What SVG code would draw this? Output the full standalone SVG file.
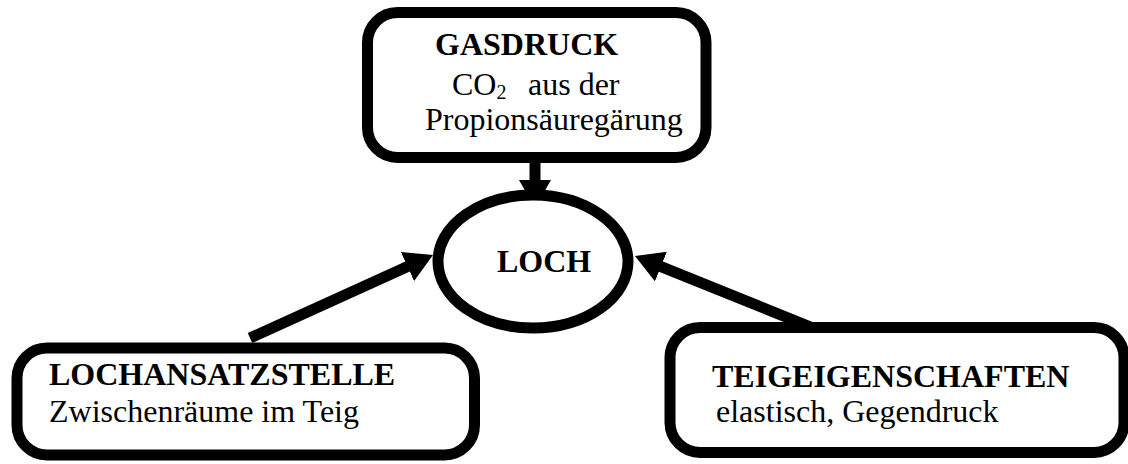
<svg xmlns="http://www.w3.org/2000/svg" width="1128" height="464" viewBox="0 0 1128 464">
<style>
.box{fill:#fff;stroke:#000;stroke-width:11}
.conn{stroke:#000;stroke-width:11;fill:none}
text{font-family:"Liberation Serif","Times New Roman",serif;font-size:32px;fill:#000}
.b{font-weight:bold}
</style>
<defs>
<marker id="ah" viewBox="0 0 28 32" refX="2" refY="16" markerWidth="28" markerHeight="32" markerUnits="userSpaceOnUse" orient="auto">
<path d="M0,0 L28,16 L0,32 z" fill="#000"/>
</marker>
</defs>
<rect width="1128" height="464" fill="#fff"/>
<g id="connectors">
<line class="conn" x1="535" y1="157" x2="535" y2="182" marker-end="url(#ah)"/>
<line class="conn" x1="250" y1="338" x2="409.3" y2="265.7" marker-end="url(#ah)"/>
<line class="conn" x1="818" y1="330" x2="659.1" y2="265.8" marker-end="url(#ah)"/>
</g>
<g id="gasdruck">
<rect class="box" x="367.5" y="12.5" width="338.5" height="145" rx="30"/>
<text class="b" x="435" y="55">GASDRUCK</text>
<text x="452" y="95">CO<tspan font-size="20" dy="4">2</tspan><tspan x="528" dy="-4">aus der</tspan></text>
<text x="425" y="130">Propionsäuregärung</text>
</g>
<g id="loch">
<ellipse class="box" cx="533" cy="261.5" rx="95" ry="66.5" stroke-width="10.5"/>
<text class="b" x="497" y="272">LOCH</text>
</g>
<g id="lochansatzstelle">
<rect class="box" x="17" y="348" width="457.5" height="107" rx="30"/>
<text class="b" x="49" y="385">LOCHANSATZSTELLE</text>
<text x="49" y="422">Zwischenräume im Teig</text>
</g>
<g id="teigeigenschaften">
<rect class="box" x="670" y="327.5" width="454" height="125" rx="30"/>
<text class="b" x="712" y="387">TEIGEIGENSCHAFTEN</text>
<text x="716" y="422">elastisch, Gegendruck</text>
</g>
</svg>
